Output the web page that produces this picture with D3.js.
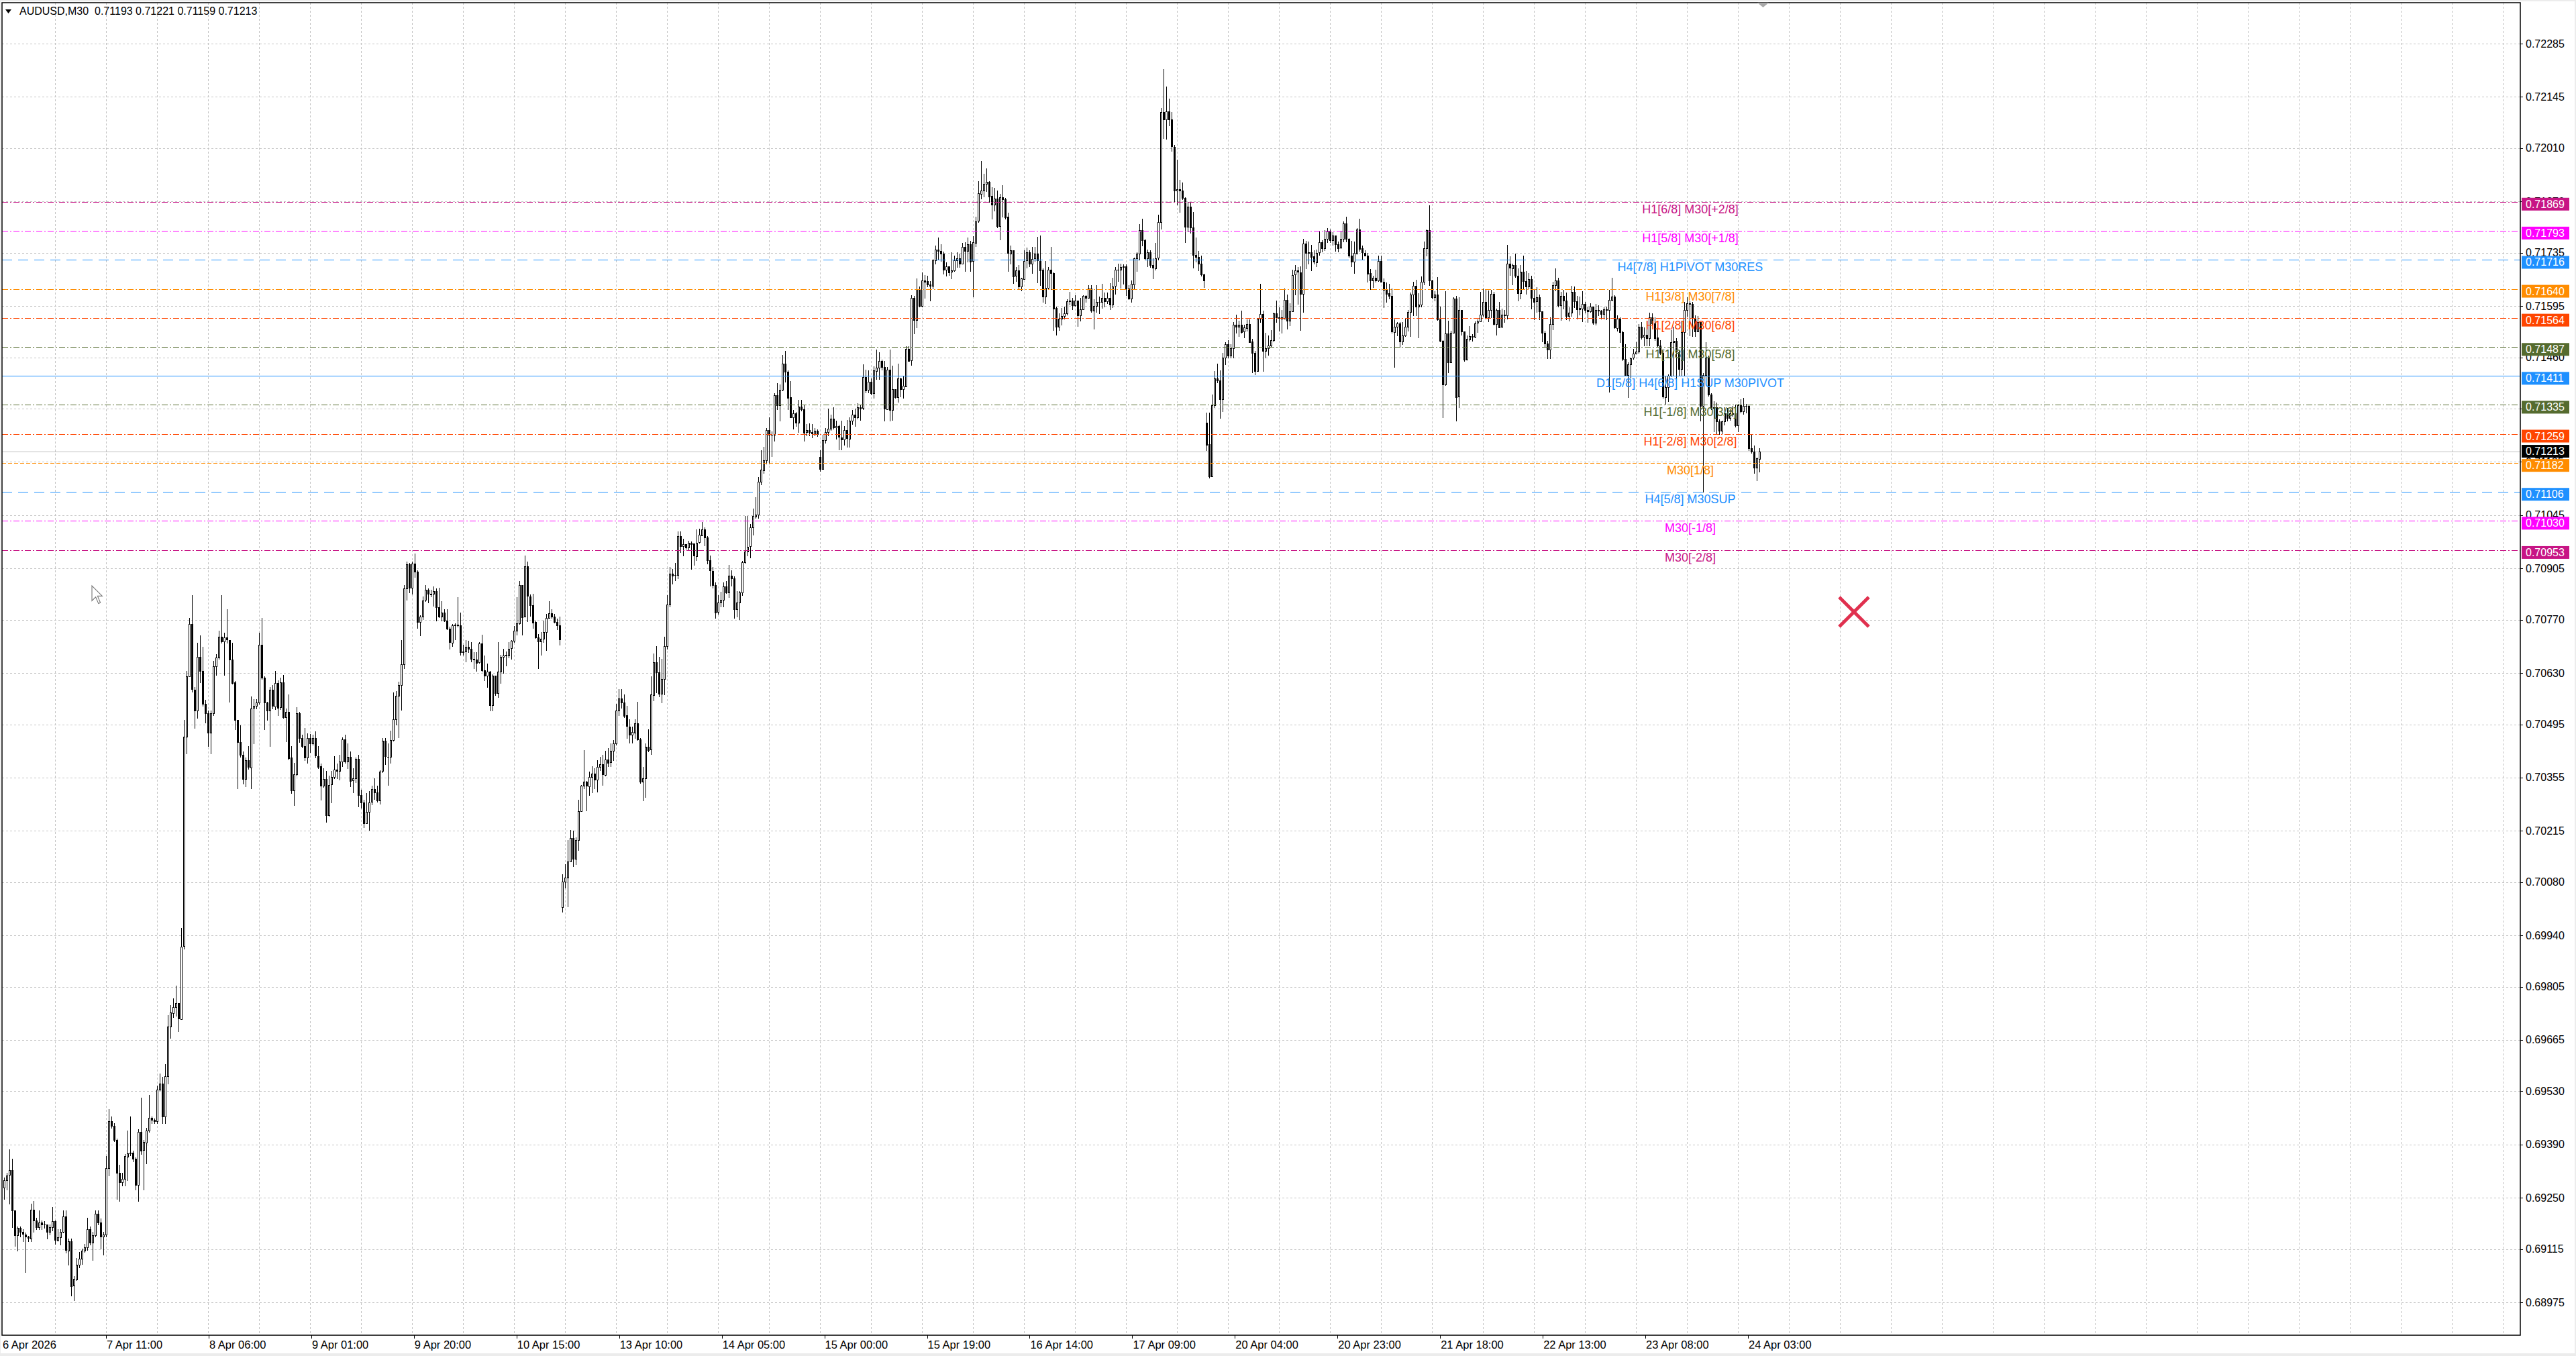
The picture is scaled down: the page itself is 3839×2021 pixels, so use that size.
<!DOCTYPE html>
<html>
<head>
<meta charset="utf-8">
<script src="https://cdn.jsdelivr.net/npm/d3@7"></script>
<style>
html, body { margin: 0; padding: 0; background: #fff; overflow: hidden; }
svg { display: block; font-family: "Liberation Sans", Arial, sans-serif; }
</style>
</head>
<body>
<svg id="chart" width="3839" height="2021"></svg>
<script>
// AUDUSD M30 candles, prices in 1e-5 units, bar 0 = 6 Apr 16:00
const symbol = "AUDUSD,M30";

const closes = [
69297,69309,69322,69216,69150,69170,69160,69154,69148,69144,
69219,69191,69173,69185,69179,69179,69160,69173,69188,69138,
69146,69160,69200,69111,69136,69018,69036,69074,69090,69111,
69119,69167,69132,69152,69208,69185,69148,69154,69328,69452,
69439,69402,69315,69291,69299,69359,69367,69369,69353,69284,
69423,69374,69396,69427,69460,69455,69452,69535,69551,69464,
69570,69700,69737,69752,69762,69721,69911,70462,70621,70758,
70586,70531,70673,70636,70549,70524,70472,70524,70648,70671,
70725,70713,70723,70717,70666,70605,70506,70448,70415,70351,
70400,70382,70537,70543,70552,70704,70617,70552,70531,70586,
70543,70604,70539,70605,70514,70528,70407,70320,70363,70524,
70458,70437,70407,70458,70444,70458,70412,70384,70333,70351,
70256,70336,70356,70376,70372,70397,70456,70398,70410,70347,
70353,70404,70309,70289,70235,70265,70290,70324,70316,70295,
70371,70451,70410,70410,70454,70508,70570,70599,70653,70852,
70915,70854,70918,70896,70764,70778,70821,70848,70837,70839,
70846,70803,70778,70788,70767,70746,70710,70755,70757,70756,
70685,70687,70699,70693,70667,70666,70657,70707,70637,70623,
70634,70545,70623,70578,70634,70672,70675,70677,70694,70714,
70741,70761,70862,70778,70910,70832,70809,70764,70724,70713,
70720,70738,70775,70787,70778,70764,70755,70718,70081,70092,
70134,70196,70141,70191,70266,70333,70344,70333,70357,70365,
70350,70383,70390,70363,70403,70395,70425,70444,70531,70563,
70553,70518,70489,70467,70474,70498,70456,70345,70353,70436,
70428,70573,70659,70632,70575,70614,70701,70810,70892,70887,
70887,70990,70963,70968,70960,70973,70970,70938,70973,70993,
71008,70986,70926,70899,70862,70790,70815,70822,70857,70842,
70886,70879,70798,70815,70842,70921,70950,70962,71012,71042,
71047,71133,71164,71190,71269,71257,71257,71361,71334,71375,
71444,71423,71355,71302,71312,71288,71331,71324,71263,71269,
71263,71259,71267,71259,71166,71242,71263,71272,71299,71276,
71279,71250,71245,71269,71247,71294,71309,71302,71329,71326,
71408,71373,71395,71365,71425,71433,71450,71434,71324,71428,
71322,71376,71355,71405,71376,71385,71483,71452,71616,71558,
71640,71596,71663,71660,71652,71648,71715,71744,71740,71733,
71690,71699,71684,71688,71715,71721,71707,71751,71741,71758,
71713,71762,71818,71891,71899,71916,71922,71884,71861,71877,
71805,71881,71876,71829,71734,71742,71674,71688,71645,71667,
71714,71736,71706,71719,71732,71714,71690,71620,71643,71690,
71682,71589,71540,71562,71569,71576,71608,71609,71596,71609,
71571,71586,71621,71616,71641,71583,71596,71606,71606,71616,
71607,71616,71599,71647,71690,71690,71697,71699,71641,71614,
71653,71721,71733,71795,71768,71721,71736,71702,71695,71721,
71815,72105,72085,72106,72085,72014,71899,71903,71899,71879,
71803,71856,71801,71729,71724,71707,71678,71662,71231,71147,
71334,71405,71399,71350,71459,71494,71464,71484,71546,71540,
71546,71527,71538,71548,71501,71471,71424,71562,71574,71477,
71484,71491,71505,71575,71565,71566,71562,71611,71556,71581,
71677,71688,71684,71627,71760,71735,71737,71725,71711,71735,
71762,71747,71771,71791,71768,71781,71758,71748,71771,71812,
71771,71727,71711,71734,71797,71746,71735,71728,71681,71662,
71669,71662,71713,71659,71638,71628,71621,71527,71541,71550,
71503,71518,71541,71580,71625,71648,71594,71599,71659,71747,
71795,71662,71618,71625,71560,71503,71388,71522,71447,71525,
71615,71356,71584,71528,71454,71508,71516,71515,71550,71554,
71572,71606,71565,71584,71627,71548,71585,71540,71572,71571,
71706,71695,71703,71674,71629,71685,71660,71646,71666,71617,
71607,71618,71581,71525,71497,71481,71548,71650,71662,71597,
71621,71609,71568,71577,71632,71607,71585,71589,71601,71585,
71581,71593,71550,71584,71582,71574,71587,71585,71611,71619,
71538,71562,71527,71456,71413,71442,71458,71469,71475,71541,
71513,71519,71511,71565,71550,71512,71491,71471,71356,71382,
71412,71500,71503,71474,71430,71527,71585,71603,71601,71564,
71529,71553,71332,71413,71459,71362,71327,71328,71291,71266,
71291,71312,71300,71313,71312,71281,71334,71318,71332,71332,
71221,71212,71170,71194,71213
];

const highs = [
69303,69315,69377,69353,69216,69175,69175,69167,69158,69150,
69235,69241,69198,69216,69191,69188,69167,69179,69225,69191,
69167,69167,69216,69216,69142,69142,69043,69092,69108,69117,
69129,69198,69175,69160,69216,69216,69195,69160,69359,69483,
69464,69446,69406,69336,69315,69365,69427,69464,69374,69356,
69431,69514,69402,69433,69520,69464,69458,69545,69576,69567,
69601,69731,69756,69774,69808,69762,69960,70506,70636,70775,
70834,70593,70710,70729,70698,70559,70531,70531,70661,70679,
70741,70834,70735,70797,70717,70710,70609,70502,70493,70423,
70407,70438,70568,70562,70562,70735,70775,70621,70555,70593,
70599,70636,70611,70617,70624,70537,70574,70438,70394,70540,
70527,70468,70486,70471,70470,70468,70477,70438,70392,70380,
70373,70360,70373,70412,70392,70414,70461,70468,70444,70424,
70380,70407,70414,70323,70296,70315,70319,70333,70353,70333,
70375,70458,70458,70444,70478,70579,70583,70607,70717,70862,
70923,70920,70923,70944,70900,70782,70832,70862,70852,70848,
70857,70852,70854,70819,70798,70798,70751,70758,70761,70830,
70788,70704,70717,70714,70711,70684,70684,70711,70730,70675,
70655,70636,70626,70623,70711,70677,70694,70687,70711,70717,
70753,70830,70871,70862,70938,70923,70836,70839,70768,70733,
70738,70767,70785,70819,70798,70785,70773,70778,70100,70127,
70191,70218,70215,70198,70296,70336,70427,70346,70370,70385,
70380,70400,70410,70415,70426,70432,70444,70454,70548,70587,
70587,70573,70543,70508,70489,70508,70555,70459,70383,70444,
70482,70622,70681,70701,70672,70667,70726,70835,70909,70904,
70919,71003,71003,70983,70968,70978,70976,70963,71008,71010,
71027,71013,70990,70938,70909,70869,70835,70844,70869,70871,
70914,70900,70884,70846,70846,70924,71042,71042,71022,71062,
71092,71146,71215,71225,71274,71302,71265,71365,71393,71388,
71467,71477,71425,71398,71322,71316,71348,71348,71336,71284,
71286,71284,71274,71270,71215,71257,71274,71326,71309,71329,
71294,71282,71294,71279,71296,71302,71322,71326,71339,71336,
71442,71428,71425,71405,71437,71480,71474,71454,71450,71434,
71480,71438,71370,71444,71407,71411,71490,71490,71623,71621,
71667,71647,71684,71677,71674,71660,71719,71754,71775,71758,
71738,71709,71690,71736,71727,71736,71733,71761,71762,71775,
71767,71778,71829,71924,71977,71943,71957,71923,71908,71906,
71899,71889,71913,71879,71841,71754,71740,71697,71702,71670,
71741,71748,71742,71751,71751,71776,71780,71694,71713,71697,
71751,71684,71593,71576,71589,71593,71613,71632,71616,71623,
71586,71616,71623,71623,71650,71650,71613,71650,71620,71653,
71630,71630,71655,71670,71697,71707,71707,71704,71704,71650,
71663,71722,71736,71810,71825,71771,71744,71741,71721,71761,
71835,72115,72218,72172,72140,72105,72019,71980,71926,71920,
71881,71868,71868,71842,71775,71740,71727,71679,71315,71315,
71362,71424,71444,71425,71471,71500,71506,71494,71552,71572,
71556,71582,71546,71559,71559,71509,71477,71564,71653,71582,
71524,71518,71532,71577,71609,71591,71585,71641,71625,71603,
71691,71703,71697,71699,71772,71766,71765,71756,71741,71744,
71791,71768,71794,71799,71797,71790,71768,71765,71791,71818,
71830,71774,71766,71765,71800,71824,71754,71742,71734,71693,
71675,71690,71727,71727,71668,71656,71654,71641,71559,71553,
71553,71553,71564,71585,71630,71659,71664,71629,71672,71764,
71797,71859,71664,71634,71671,71594,71506,71634,71556,71529,
71618,71621,71618,71585,71521,71518,71542,71521,71554,71559,
71632,71641,71638,71635,71638,71632,71588,71606,71588,71585,
71756,71725,71706,71732,71694,71703,71728,71687,71682,71674,
71637,71644,71625,71574,71529,71503,71565,71658,71694,71669,
71632,71638,71631,71591,71648,71647,71621,71619,71634,71606,
71594,71603,71588,71600,71597,71585,71591,71594,71638,71669,
71624,71571,71565,71529,71494,71447,71460,71482,71500,71548,
71553,71538,71556,71577,71575,71566,71541,71506,71477,71412,
71415,71532,71541,71511,71477,71554,71605,71618,71607,71606,
71571,71569,71553,71418,71500,71465,71365,71344,71341,71297,
71294,71329,71327,71324,71332,71335,71337,71350,71354,71337,
71334,71259,71229,71197,71221
];

const lows = [
69247,69272,69235,69173,69123,69111,69148,69136,69055,69136,
69136,69160,69167,69167,69167,69170,69142,69154,69163,69129,
69138,69126,69158,69105,69074,68993,68981,69034,69067,69076,
69108,69113,69126,69086,69148,69179,69117,69101,69148,69309,
69433,69398,69247,69241,69282,69282,69297,69361,69346,69272,
69241,69365,69272,69340,69423,69446,69446,69446,69532,69446,
69446,69551,69671,69725,69728,69687,69731,69904,70419,70624,
70580,70485,70512,70605,70543,70500,70438,70419,70518,70624,
70667,70710,70624,70710,70555,70601,70481,70326,70410,70338,
70332,70378,70326,70444,70537,70549,70614,70481,70506,70438,
70537,70534,70518,70534,70512,70450,70403,70314,70283,70360,
70448,70434,70400,70394,70421,70441,70407,70380,70297,70330,
70238,70255,70289,70353,70353,70350,70384,70394,70380,70331,
70316,70343,70279,70276,70225,70234,70218,70284,70299,70292,
70286,70369,70390,70336,70394,70452,70495,70461,70533,70643,
70822,70842,70839,70883,70749,70728,70771,70819,70815,70832,
70807,70768,70776,70768,70765,70744,70694,70701,70718,70751,
70677,70677,70660,70684,70660,70643,70635,70657,70633,70610,
70593,70532,70532,70572,70566,70603,70630,70650,70670,70667,
70711,70731,70758,70731,70778,70765,70780,70749,70721,70643,
70677,70711,70690,70774,70774,70763,70744,70704,70002,70066,
70016,70134,70122,70128,70164,70266,70326,70269,70309,70316,
70326,70318,70375,70336,70360,70385,70385,70400,70442,70518,
70538,70513,70459,70446,70446,70459,70454,70340,70294,70304,
70424,70417,70558,70578,70568,70553,70573,70693,70805,70864,
70874,70879,70948,70938,70956,70953,70904,70914,70926,70973,
70993,70966,70917,70859,70854,70775,70785,70805,70805,70840,
70830,70859,70775,70778,70772,70835,70919,70938,70933,70993,
71037,71037,71126,71156,71180,71180,71200,71240,71324,71294,
71373,71395,71324,71302,71272,71279,71264,71319,71240,71255,
71255,71250,71255,71253,71161,71168,71235,71255,71269,71272,
71245,71217,71217,71230,71225,71225,71284,71279,71299,71296,
71324,71368,71368,71363,71353,71403,71403,71428,71294,71375,
71294,71296,71353,71342,71357,71353,71385,71451,71439,71522,
71539,71593,71593,71616,71647,71610,71641,71706,71717,71714,
71679,71674,71677,71668,71687,71697,71697,71706,71687,71711,
71687,71620,71753,71816,71877,71882,71896,71869,71825,71846,
71802,71769,71829,71825,71687,71707,71655,71661,71641,71636,
71665,71695,71700,71682,71713,71657,71650,71605,71603,71640,
71640,71532,71519,71531,71546,71562,71572,71599,71586,71596,
71542,71556,71586,71606,71620,71579,71535,71579,71576,71589,
71593,71603,71586,71591,71626,71660,71643,71653,71623,71613,
71605,71640,71687,71717,71754,71717,71700,71697,71667,71690,
71717,71798,72036,72034,72070,72003,71868,71862,71843,71876,
71763,71791,71788,71695,71712,71689,71675,71644,71216,71144,
71150,71329,71394,71300,71318,71442,71459,71459,71459,71524,
71515,71524,71512,71529,71499,71421,71415,71424,71553,71424,
71459,71466,71487,71501,71553,71530,71524,71565,71535,71544,
71581,71625,71601,71532,71579,71694,71707,71689,71707,71699,
71729,71738,71742,71762,71762,71756,71740,71738,71747,71765,
71765,71724,71699,71681,71732,71740,71718,71727,71659,71640,
71644,71659,71660,71658,71591,71606,71615,71524,71435,71518,
71487,71494,71515,71529,71515,71571,71571,71512,71594,71652,
71727,71650,71615,71609,71558,71501,71303,71387,71421,71447,
71524,71294,71329,71519,71450,71456,71503,71503,71512,71527,
71554,71568,71562,71554,71565,71546,71519,71538,71538,71553,
71562,71677,71652,71671,71609,71615,71641,71627,71641,71588,
71559,71579,71559,71501,71488,71458,71458,71534,71635,71594,
71558,71588,71559,71556,71568,71591,71562,71572,71554,71578,
71553,71580,71548,71546,71571,71562,71562,71559,71369,71609,
71537,71529,71500,71453,71412,71356,71406,71456,71471,71472,
71509,71491,71491,71491,71548,71506,71488,71468,71353,71337,
71344,71409,71412,71406,71412,71412,71412,71568,71518,71515,
71515,71550,71294,71106,71406,71359,71324,71265,71260,71259,
71259,71282,71294,71295,71306,71278,71266,71315,71311,71315,
71215,71209,71156,71137,71159
];

// bars whose open is not the previous close (session gaps): [bar, open]
const gapOpens = [[0, 69278], [208, 70014], [304, 71198], [448, 71289], [654, 71193]];

const priceTicks = [0.72285, 0.72145, 0.72010, 0.71870, 0.71735, 0.71595, 0.71460, 0.71325,
  0.71185, 0.71045, 0.70905, 0.70770, 0.70630, 0.70495, 0.70355, 0.70215, 0.70080, 0.69940,
  0.69805, 0.69665, 0.69530, 0.69390, 0.69250, 0.69115, 0.68975];

// one label every 38 bars
const timeLabels = ["6 Apr 2026", "7 Apr 11:00", "8 Apr 06:00", "9 Apr 01:00", "9 Apr 20:00",
  "10 Apr 15:00", "13 Apr 10:00", "14 Apr 05:00", "15 Apr 00:00", "15 Apr 19:00", "16 Apr 14:00",
  "17 Apr 09:00", "20 Apr 04:00", "20 Apr 23:00", "21 Apr 18:00", "22 Apr 13:00", "23 Apr 08:00",
  "24 Apr 03:00"];

const levelPrices = [0.71869, 0.71793, 0.71716, 0.71640, 0.71564, 0.71487, 0.71411,
  0.71335, 0.71259, 0.71182, 0.71106, 0.71030, 0.70953];
const levelNames = ["H1[6/8] M30[+2/8]", "H1[5/8] M30[+1/8]", "H4[7/8] H1PIVOT M30RES",
  "H1[3/8] M30[7/8]", "H1[2/8] M30[6/8]", "H1[1/8] M30[5/8]", "D1[5/8] H4[6/8] H1SUP M30PIVOT",
  "H1[-1/8] M30[3/8]", "H1[-2/8] M30[2/8]", "M30[1/8]", "H4[5/8] M30SUP", "M30[-1/8]", "M30[-2/8]"];

// look of each level line, same order as levelPrices
const dashDot = "9,3,2,3";
const levelStyles = [
	{ color: "#c71585", dash: dashDot },
	{ color: "#ff00ff", dash: dashDot },
	{ color: "#1e90ff", dash: "15,9" },
	{ color: "#ff8c00", dash: dashDot },
	{ color: "#ff4500", dash: dashDot },
	{ color: "#556b2f", dash: dashDot },
	{ color: "#1e90ff", dash: null },
	{ color: "#556b2f", dash: dashDot },
	{ color: "#ff4500", dash: dashDot },
	{ color: "#ff8c00", dash: "6,3" },
	{ color: "#1e90ff", dash: "15,9" },
	{ color: "#ff00ff", dash: dashDot },
	{ color: "#c71585", dash: dashDot }
];

const W = 3839, H = 2021;
const plot = { left: 3, top: 4, right: 3756, bottom: 1990 };
const barsAcross = 936;

const svg = d3.select("#chart");

svg.append("rect").attr("width", W).attr("height", H).attr("fill", "#ececec");
svg.append("rect").attr("x", 1).attr("y", 2).attr("width", W - 3).attr("height", H - 6).attr("fill", "#fff");

const x = d3.scaleLinear().domain([0, barsAcross]).range([5.7, 3749.7]);
// time labels sit on a slightly wider spacing than the bars
const xTime = d3.scaleLinear().domain([38, 646]).range([158, 2605]);
const y = d3.scaleLinear().domain([0.68975, 0.72285]).range([1941, 65]);
const px = v => Math.round(v) + 0.5;

// grid
const grid = svg.append("g")
	.attr("stroke", "#c4c4c4")
	.attr("stroke-width", 1)
	.attr("stroke-dasharray", "3,3")
	.attr("shape-rendering", "crispEdges");

grid.selectAll(null)
	.data(priceTicks)
	.enter()
	.append("line")
	.attr("x1", plot.left).attr("x2", plot.right)
	.attr("y1", d => px(y(d))).attr("y2", d => px(y(d)));

grid.selectAll(null)
	.data(d3.range(19, barsAcross + 1, 19))
	.enter()
	.append("line")
	.attr("x1", d => px(x(d))).attr("x2", d => px(x(d)))
	.attr("y1", plot.top).attr("y2", plot.bottom);

// bars
const gapMap = new Map(gapOpens);
const bars = closes.map((c, i) => {
	const o = gapMap.has(i) ? gapMap.get(i) : closes[i - 1];
	return {
		i,
		o: o / 1e5,
		c: c / 1e5,
		h: Math.max(highs[i], o, c) / 1e5,
		l: Math.min(lows[i], o, c) / 1e5
	};
});
const last = bars[bars.length - 1];

// current price line
svg.append("line")
	.attr("x1", plot.left).attr("x2", plot.right)
	.attr("y1", px(y(last.c))).attr("y2", px(y(last.c)))
	.attr("stroke", "#c0c0c0")
	.attr("shape-rendering", "crispEdges");

// candles
const candles = svg.append("g").attr("shape-rendering", "crispEdges");

const candleGroups = candles.selectAll(null)
	.data(bars)
	.enter()
	.append("g");

candleGroups.append("line")
	.attr("x1", d => px(x(d.i))).attr("x2", d => px(x(d.i)))
	.attr("y1", d => Math.round(y(d.h))).attr("y2", d => Math.round(y(d.l)) + 1)
	.attr("stroke", "#000");

candleGroups.append("rect")
	.attr("x", d => px(x(d.i)) - 1)
	.attr("width", 2)
	.attr("y", d => px(y(Math.max(d.o, d.c))))
	.attr("height", d => Math.max(0.01, Math.round(Math.abs(y(d.o) - y(d.c)))))
	.attr("fill", d => d.c >= d.o ? "#fff" : "#000")
	.attr("stroke", "#000")
	.attr("stroke-width", 1);

// level lines
const levels = levelPrices.map((p, k) => ({ p, name: levelNames[k], style: levelStyles[k] }));

svg.append("g")
	.attr("shape-rendering", "crispEdges")
	.selectAll(null)
	.data(levels)
	.enter()
	.append("line")
	.attr("x1", plot.left).attr("x2", plot.right)
	.attr("y1", d => px(y(d.p))).attr("y2", d => px(y(d.p)))
	.attr("stroke", d => d.style.color)
	.attr("stroke-width", 1.3)
	.attr("stroke-dasharray", d => d.style.dash);

svg.append("g")
	.selectAll(null)
	.data(levels)
	.enter()
	.append("text")
	.attr("x", 2519)
	.attr("y", d => y(d.p) + 17)
	.attr("text-anchor", "middle")
	.attr("font-size", 18)
	.attr("fill", d => d.style.color)
	.text(d => d.name);

// frame
svg.append("rect")
	.attr("x", plot.left).attr("y", plot.top)
	.attr("width", plot.right - plot.left).attr("height", plot.bottom - plot.top)
	.attr("fill", "none")
	.attr("stroke", "#000")
	.attr("stroke-width", 1.5);

// price axis
const yAxis = svg.append("g");
yAxis.selectAll(null)
	.data(priceTicks)
	.enter()
	.append("line")
	.attr("x1", plot.right).attr("x2", plot.right + 4)
	.attr("y1", d => px(y(d))).attr("y2", d => px(y(d)))
	.attr("stroke", "#000");
yAxis.selectAll(null)
	.data(priceTicks)
	.enter()
	.append("text")
	.attr("x", 3764)
	.attr("y", d => y(d) + 5.5)
	.attr("font-size", 16)
	.attr("fill", "#000")
	.text(d => d.toFixed(5));

const tags = levels.map(d => ({ p: d.p, color: d.style.color, top: y(d.p) - 6 }))
	.concat([{ p: last.c, color: "#000", top: y(last.c) - 9.5 }]);

const tagGroups = svg.append("g")
	.selectAll(null)
	.data(tags)
	.enter()
	.append("g");
tagGroups.append("rect")
	.attr("x", 3758).attr("y", d => d.top)
	.attr("width", 71).attr("height", 19)
	.attr("fill", d => d.color);
tagGroups.append("text")
	.attr("x", 3764).attr("y", d => d.top + 15)
	.attr("font-size", 16)
	.attr("fill", "#fff")
	.text(d => d.p.toFixed(5));

// time axis
const timeTicks = timeLabels.map((label, k) => ({ label, bar: k * 38 }));
const xAxis = svg.append("g");
xAxis.selectAll(null)
	.data(timeTicks.slice(1))
	.enter()
	.append("line")
	.attr("x1", d => px(xTime(d.bar))).attr("x2", d => px(xTime(d.bar)))
	.attr("y1", plot.bottom).attr("y2", plot.bottom + 5)
	.attr("stroke", "#000");
xAxis.selectAll(null)
	.data(timeTicks)
	.enter()
	.append("text")
	.attr("x", d => d.bar === 0 ? 4 : xTime(d.bar) + 1)
	.attr("y", 2010)
	.attr("font-size", 16.5)
	.attr("fill", "#000")
	.text(d => d.label);

// header
svg.append("path")
	.attr("d", "M8,14L17,14L12.5,20Z")
	.attr("fill", "#000");
svg.append("text")
	.attr("x", 29).attr("y", 22)
	.attr("font-size", 16)
	.attr("fill", "#000")
	.attr("xml:space", "preserve")
	.text(`${symbol}  ${[last.o, last.h, last.l, last.c].map(v => v.toFixed(5)).join(" ")}`);

// chart shift marker
svg.append("path")
	.attr("d", "M2619,4L2636,4L2627.5,11Z")
	.attr("fill", "#a8a8a8");

// red cross
svg.append("g")
	.attr("stroke", "#e0304e")
	.attr("stroke-width", 5)
	.selectAll(null)
	.data([[2741, 890, 2785, 934], [2785, 890, 2741, 934]])
	.enter()
	.append("line")
	.attr("x1", d => d[0]).attr("y1", d => d[1])
	.attr("x2", d => d[2]).attr("y2", d => d[3]);

// mouse pointer
svg.append("path")
	.attr("transform", "translate(137,873) scale(1.4)")
	.attr("d", "M0,0L0,16L4,12L7,19L9,18L6,11L11,11Z")
	.attr("fill", "#fff")
	.attr("stroke", "#777")
	.attr("stroke-width", 0.8);
</script>
</body>
</html>
